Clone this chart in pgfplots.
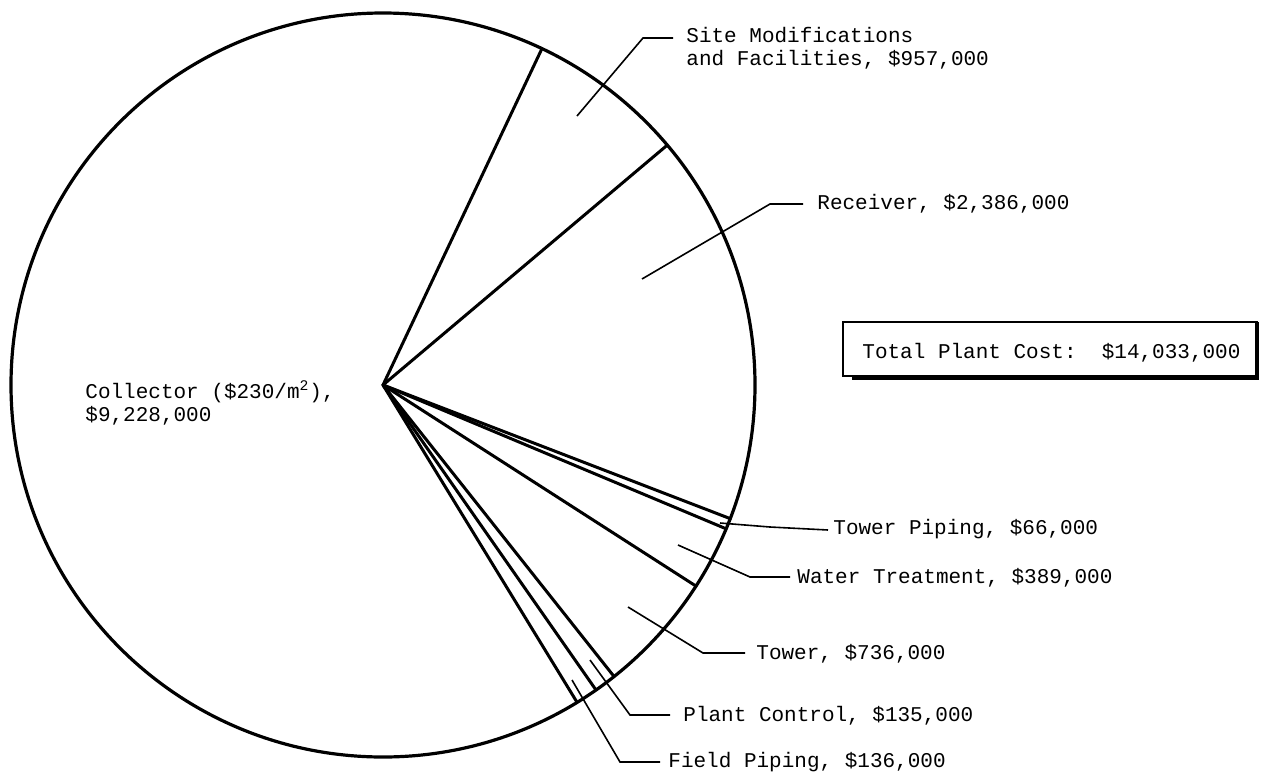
\documentclass[border=0pt]{standalone}
\usepackage{pgfplots}
\pgfplotsset{compat=1.18}
\usepackage{fontspec}
\setmainfont{Liberation Mono}
\tikzset{lbl/.style={anchor=base west, inner sep=0pt, font=\fontsize{10.5}{12}\selectfont}}
\begin{document}
% Cost breakdown (thousand $): Site 957, Receiver 2386, Tower Piping 66,
% Water Treatment 389, Tower 736, Plant Control 135, Field Piping 136,
% Collector 9228; total 14033. Boundary angles (deg) = cumulative share * 360.
\begin{tikzpicture}
\begin{axis}[hide axis, scale only axis, width=632.5pt, height=385.5pt,
  xmin=0, xmax=1265, ymin=0, ymax=771, y dir=reverse, clip=false, no markers]
\addplot[draw=none] coordinates {(0,0) (1265,771)};
% pie outline
\draw[line width=1.6pt] (axis cs:383,385) circle[radius=186pt];
% wedge boundaries
\pgfplotsinvokeforeach{64.71,40.16,-21.05,-22.74,-32.72,-51.60,-55.07,-58.55}{
  \addplot[black, line width=1.5pt, line cap=round] coordinates {(383,385) ({383+372*cos(#1)},{385-372*sin(#1)})};
}
% leader lines
\addplot[black, line width=0.8pt] coordinates {(577,116) (643,38) (673,38)};
\addplot[black, line width=0.8pt] coordinates {(642,279) (770,204) (803,204)};
\addplot[black, line width=0.8pt] coordinates {(720,523) (770,527) (828,530)};
\addplot[black, line width=0.8pt] coordinates {(678,545) (750,577) (790,577)};
\addplot[black, line width=0.8pt] coordinates {(628,607) (703,653) (745,653)};
\addplot[black, line width=0.8pt] coordinates {(590,660) (630,715) (670,715)};
\addplot[black, line width=0.8pt] coordinates {(572,680) (620,762) (660,762)};
% labels
\node[lbl] at (axis cs:686,42) {Site Modifications};
\node[lbl] at (axis cs:686,65) {and Facilities, \$957,000};
\node[lbl] at (axis cs:817,209) {Receiver, \$2,386,000};
\node[lbl] at (axis cs:833,534) {Tower Piping, \$66,000};
\node[lbl] at (axis cs:797,583) {Water Treatment, \$389,000};
\node[lbl] at (axis cs:756,659) {Tower, \$736,000};
\node[lbl] at (axis cs:683,721) {Plant Control, \$135,000};
\node[lbl] at (axis cs:668,767) {Field Piping, \$136,000};
\node[lbl] at (axis cs:85,398) {Collector (\$230/m\textsuperscript{2}),};
\node[lbl] at (axis cs:85,421) {\$9,228,000};
% total box
\draw[line width=0.8pt] (axis cs:843,322) rectangle (axis cs:1257,376);
\draw[line width=2pt] (axis cs:852,377.5) -- (axis cs:1257,377.5) -- (axis cs:1257,322);
\node[lbl] at (axis cs:862,358) {Total Plant Cost:\ \ \$14,033,000};
\end{axis}
\end{tikzpicture}
\end{document}
